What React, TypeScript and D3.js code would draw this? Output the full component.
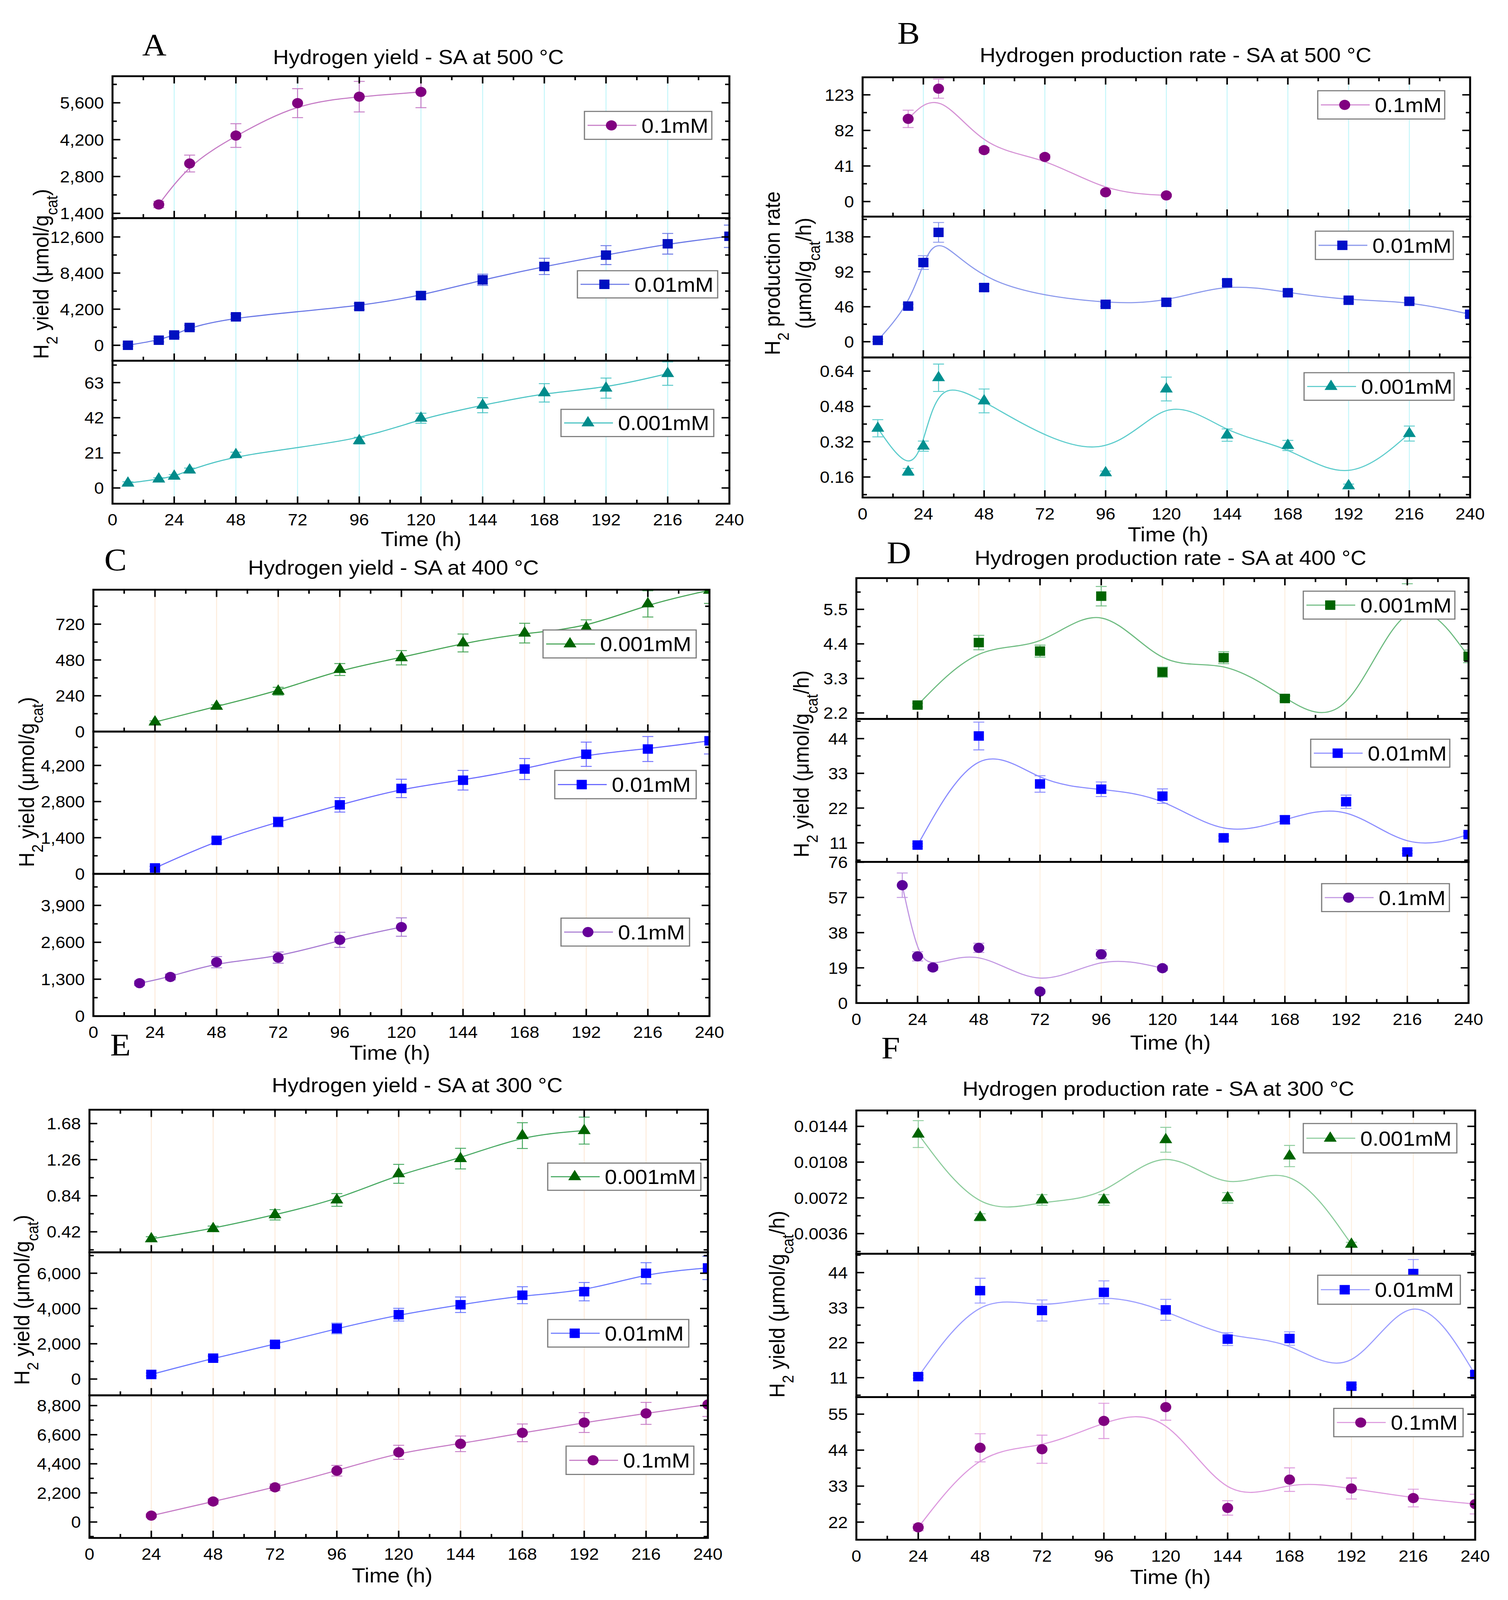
import * as d3 from 'd3'

type Shape = 'circle' | 'square' | 'triangle'

// hours at which samples were taken
const HOURS_24 = [24, 48, 72, 96, 120, 144, 168, 192, 216, 240]
const HOURS_24_192 = [24, 48, 72, 96, 120, 144, 168, 192]
const HOURS_EARLY = [18, 30, 48, 72, 96, 120]
const HOURS_500_SQ = [6, 18, 24, 30, 48, 96, 120, 144, 168, 192, 216, 240]
const HOURS_500_TRI = [6, 18, 24, 30, 48, 96, 120, 144, 168, 192, 216]
const HOURS_400_CIRC = [18, 24, 30, 48, 72, 96, 120]

const X_TICKS = [0, 24, 48, 72, 96, 120, 144, 168, 192, 216, 240]
const X_MINOR = [12, 36, 60, 84, 108, 132, 156, 180, 204, 228]
const GRID_X = [24, 48, 72, 96, 120, 144, 168, 192, 216]

// A - yield 500 °C
const yieldA_01 = [1737, 3293, 4356, 5587, 5833, 6015]
const errA_01 = [120, 320, 450, 550, 580, 600]
const yieldA_001 = [0, 598, 1197, 2074, 3311, 4507, 5783, 7618, 9174, 10490, 11806, 12680]
const errA_001 = [100, 200, 250, 250, 300, 350, 450, 650, 950, 1100, 1200, 1300]
const yieldA_0001 = [2.9, 5.3, 7.0, 10.7, 19.9, 28.3, 41.7, 49.5, 56.9, 59.7, 68.4]
const errA_0001 = [0.8, 0.8, 1, 1.2, 1.5, 2, 3, 4.5, 5.5, 6, 7]

// B - rate 500 °C
const rateB_01 = [95.3, 130.1, 59.3, 51.4, 10.7, 7.1]
const errB_01 = [10, 11, 3, 2.5, 2, 1.5]
const rateB_001 = [1.8, 46.9, 104.2, 143.9, 71.3, 49.2, 51.9, 77.6, 64.5, 54.6, 53.2, 36.1]
const errB_001 = [1.5, 2.5, 9, 13, 4.5, 2.5, 2.5, 4, 3, 2.5, 2.5, 2.5]
const rateB_0001 = [0.381, 0.183, 0.3, 0.61, 0.505, 0.179, 0.559, 0.35, 0.303, 0.12, 0.357]
const errB_0001 = [0.039, 0.016, 0.023, 0.062, 0.054, 0.008, 0.054, 0.028, 0.023, 0.008, 0.034]

// C - yield 400 °C
const yieldC_0001 = [63.9, 169.5, 270.8, 416, 495, 594, 660, 696, 856, 947]
const errC_0001 = [8, 10, 26, 40, 48, 60, 66, 53, 88, 88]
const yieldC_001 = [229, 1298, 2011, 2673, 3309, 3627, 4060, 4633, 4836, 5154]
const errC_001 = [60, 100, 190, 280, 356, 380, 407, 470, 484, 510]
const yieldC_01 = [1158, 1378, 1899, 2061, 2686, 3137]
const errC_01 = [80, 100, 197, 197, 266, 324]

// D - rate 400 °C
const rateD_0001 = [2.451, 4.442, 4.17, 5.919, 3.499, 3.96, 2.661, 1.536, 6.615, 4.002]
const errD_0001 = [0.06, 0.23, 0.19, 0.31, 0.16, 0.19, 0.08, 0.1, 0.3, 0.2]
const rateD_001 = [10.27, 44.82, 29.63, 27.96, 25.78, 12.56, 18.28, 24.0, 8.09, 13.6]
const errD_001 = [0.4, 4.4, 2.6, 2.3, 2.3, 0.6, 1.25, 2.1, 0.5, 0.6]
const rateD_01 = [63.6, 25.2, 19.2, 29.8, 6.2, 26.3, 18.8]
const errD_01 = [6.6, 2.5, 1.5, 2.5, 1, 2.5, 1.2]

// E - yield 300 °C
const yieldE_0001 = [0.338, 0.457, 0.618, 0.791, 1.095, 1.272, 1.54, 1.598]
const errE_0001 = [0.025, 0.03, 0.06, 0.074, 0.11, 0.12, 0.15, 0.157]
const yieldE_001 = [261, 1184, 1966, 2869, 3651, 4213, 4754, 4955, 5998, 6299]
const errE_001 = [80, 120, 150, 300, 360, 440, 480, 520, 600, 660]
const yieldE_01 = [481, 1551, 2621, 3878, 5269, 5911, 6740, 7516, 8212, 8880]
const errE_01 = [120, 200, 250, 400, 530, 590, 670, 750, 830, 900]

// F - rate 300 °C
const rateF_0001 = [0.01362, 0.00524, 0.00699, 0.00699, 0.01305, 0.0072, 0.01141, 0.00253]
const errF_0001 = [0.00135, 0.00036, 0.00053, 0.00053, 0.00125, 0.00053, 0.00107, 0.0002]
const rateF_001 = [11.33, 38.33, 32.1, 37.8, 32.3, 23.1, 23.3, 8.33, 43.7, 12.0]
const errF_001 = [0.5, 3.9, 3.3, 3.6, 3.3, 2, 2.1, 0.5, 4.4, 0.8]
const rateF_01 = [20.38, 44.71, 44.28, 52.93, 57.15, 26.33, 34.98, 32.27, 29.35, 27.5]
const errF_01 = [1, 4.3, 4.3, 5.4, 4, 2.2, 3.6, 3.2, 2.7, 3]

interface Sub {
  name: string
  hours: number[]
  values: number[]
  errs: number[]
  color: string
  lineColor: string
  shape: Shape
  domain: [number, number]
  ticks: number[]
  legend: [number, number, number, number]
}

interface PanelCfg {
  id: string
  letter: string
  letterPos: [number, number]
  title: string
  titlePos: [number, number]
  frame: { l: number; r: number; t: number; d1: number; d2: number; b: number }
  yTitle: 'yield' | 'rate2' | 'rate1'
  yTitlePos: [number, number]
  xTitlePos: [number, number]
  grid: string
  subs: Sub[]
}

const FONT = '"Liberation Sans", Arial, sans-serif'

const PANELS: PanelCfg[] = [
  {
    id: 'A', letter: 'A', letterPos: [364, 153],
    title: 'Hydrogen yield - SA at 500 °C', titlePos: [1071, 156],
    frame: { l: 288, r: 1867, t: 210, d1: 601, d2: 994, b: 1388 },
    yTitle: 'yield', yTitlePos: [104, 755], xTitlePos: [1078, 1485], grid: '#c4f6fa',
    subs: [
      { name: '0.1mM', hours: HOURS_EARLY, values: yieldA_01, errs: errA_01, color: '#800080', lineColor: '#c57ac5', shape: 'circle',
        domain: [1219, 6611], ticks: [1400, 2800, 4200, 5600], legend: [1496, 307, 326, 77] },
      { name: '0.01mM', hours: HOURS_500_SQ, values: yieldA_001, errs: errA_001, color: '#0010c0', lineColor: '#6a78e6', shape: 'square',
        domain: [-1795, 14794], ticks: [0, 4200, 8400, 12600], legend: [1478, 746, 359, 75] },
      { name: '0.001mM', hours: HOURS_500_TRI, values: yieldA_0001, errs: errA_0001, color: '#008b8b', lineColor: '#4cc4c4', shape: 'triangle',
        domain: [-9.4, 76.1], ticks: [0, 21, 42, 63], legend: [1436, 1128, 391, 75] },
    ],
  },
  {
    id: 'B', letter: 'B', letterPos: [2297, 121],
    title: 'Hydrogen production rate - SA at 500 °C', titlePos: [3009, 151],
    frame: { l: 2208, r: 3763, t: 213, d1: 597, d2: 985, b: 1371 },
    yTitle: 'rate2', yTitlePos: [1976, 753], xTitlePos: [2990, 1472], grid: '#c4f6fa',
    subs: [
      { name: '0.1mM', hours: HOURS_EARLY, values: rateB_01, errs: errB_01, color: '#800080', lineColor: '#d592d5', shape: 'circle',
        domain: [-17.4, 143.2], ticks: [0, 41, 82, 123], legend: [3373, 250, 325, 78] },
      { name: '0.01mM', hours: HOURS_500_SQ, values: rateB_001, errs: errB_001, color: '#0010c8', lineColor: '#8a98ec', shape: 'square',
        domain: [-20.7, 164.6], ticks: [0, 46, 92, 138], legend: [3367, 637, 353, 78] },
      { name: '0.001mM', hours: HOURS_500_TRI, values: rateB_0001, errs: errB_0001, color: '#009090', lineColor: '#5ccccc', shape: 'triangle',
        domain: [0.067, 0.702], ticks: [0.16, 0.32, 0.48, 0.64], legend: [3338, 1027, 384, 76] },
    ],
  },
  {
    id: 'C', letter: 'C', letterPos: [267, 1572],
    title: 'Hydrogen yield - SA at 400 °C', titlePos: [1007, 1563],
    frame: { l: 239, r: 1816, t: 1625, d1: 2016, d2: 2408, b: 2800 },
    yTitle: 'yield', yTitlePos: [67, 2155], xTitlePos: [998, 2900], grid: '#fdebdb',
    subs: [
      { name: '0.001mM', hours: HOURS_24, values: yieldC_0001, errs: errC_0001, color: '#006400', lineColor: '#45a455', shape: 'triangle',
        domain: [0, 951], ticks: [0, 240, 480, 720], legend: [1390, 1736, 392, 77] },
      { name: '0.01mM', hours: HOURS_24, values: yieldC_001, errs: errC_001, color: '#0000ff', lineColor: '#6c6cff', shape: 'square',
        domain: [0, 5511], ticks: [0, 1400, 2800, 4200], legend: [1420, 2123, 362, 78] },
      { name: '0.1mM', hours: HOURS_EARLY, values: yieldC_01, errs: errC_01, color: '#660099', lineColor: '#a77ad2', shape: 'circle',
        domain: [0, 5011], ticks: [0, 1300, 2600, 3900], legend: [1436, 2530, 329, 77] },
    ],
  },
  {
    id: 'D', letter: 'D', letterPos: [2270, 1552],
    title: 'Hydrogen production rate - SA at 400 °C', titlePos: [2996, 1536],
    frame: { l: 2192, r: 3759, t: 1593, d1: 1981, d2: 2375, b: 2764 },
    yTitle: 'rate1', yTitlePos: [2050, 2105], xTitlePos: [2996, 2872], grid: '#fdefdf',
    subs: [
      { name: '0.001mM', hours: HOURS_24, values: rateD_0001, errs: errD_0001, color: '#006400', lineColor: '#6dbb80', shape: 'square',
        domain: [2.011, 6.495], ticks: [2.2, 3.3, 4.4, 5.5], legend: [3336, 1629, 388, 77] },
      { name: '0.01mM', hours: HOURS_24, values: rateD_001, errs: errD_001, color: '#0000ff', lineColor: '#8a8cff', shape: 'square',
        domain: [4.96, 50.24], ticks: [11, 22, 33, 44], legend: [3355, 2037, 356, 77] },
      { name: '0.1mM', hours: HOURS_400_CIRC, values: rateD_01, errs: errD_01, color: '#5a0099', lineColor: '#c196e2', shape: 'circle',
        domain: [0, 76.2], ticks: [0, 19, 38, 57, 76], legend: [3383, 2435, 327, 77] },
    ],
  },
  {
    id: 'E', letter: 'E', letterPos: [282, 2909],
    title: 'Hydrogen yield - SA at 300 °C', titlePos: [1068, 2990],
    frame: { l: 229, r: 1812, t: 3058, d1: 3451, d2: 3845, b: 4238 },
    yTitle: 'yield', yTitlePos: [55, 3582], xTitlePos: [1004, 4340], grid: '#fdebdb',
    subs: [
      { name: '0.001mM', hours: HOURS_24_192, values: yieldE_0001, errs: errE_0001, color: '#006400', lineColor: '#45a860', shape: 'triangle',
        domain: [0.181, 1.841], ticks: [0.42, 0.84, 1.26, 1.68], legend: [1402, 3205, 392, 75] },
      { name: '0.01mM', hours: HOURS_24, values: yieldE_001, errs: errE_001, color: '#0000ff', lineColor: '#6a78ff', shape: 'square',
        domain: [-923, 7184], ticks: [0, 2000, 4000, 6000], legend: [1402, 3636, 361, 76] },
      { name: '0.1mM', hours: HOURS_24, values: yieldE_01, errs: errE_01, color: '#800080', lineColor: '#c57ac5', shape: 'circle',
        domain: [-1204, 9576], ticks: [0, 2200, 4400, 6600, 8800], legend: [1449, 3985, 327, 78] },
    ],
  },
  {
    id: 'F', letter: 'F', letterPos: [2256, 2917],
    title: 'Hydrogen production rate - SA at 300 °C', titlePos: [2965, 2999],
    frame: { l: 2192, r: 3776, t: 3060, d1: 3455, d2: 3850, b: 4243 },
    yTitle: 'rate1', yTitlePos: [1988, 3594], xTitlePos: [2996, 4345], grid: '#fdefdf',
    subs: [
      { name: '0.001mM', hours: HOURS_24_192, values: rateF_0001, errs: errF_0001, color: '#006400', lineColor: '#8ccc9c', shape: 'triangle',
        domain: [0.00157, 0.016], ticks: [0.0036, 0.0072, 0.0108, 0.0144], legend: [3336, 3096, 393, 81] },
      { name: '0.01mM', hours: HOURS_24, values: rateF_001, errs: errF_001, color: '#0000ff', lineColor: '#9b9dff', shape: 'square',
        domain: [4.89, 49.9], ticks: [11, 22, 33, 44], legend: [3373, 3514, 365, 80] },
      { name: '0.1mM', hours: HOURS_24, values: rateF_01, errs: errF_01, color: '#800080', lineColor: '#dd9ade', shape: 'circle',
        domain: [16.6, 60.2], ticks: [22, 33, 44, 55], legend: [3414, 3881, 331, 78] },
    ],
  },
]

const symbolFor = (shape: Shape) => {
  if (shape === 'circle') return d3.symbol().type(d3.symbolCircle).size(620)()
  if (shape === 'square') return d3.symbol().type(d3.symbolSquare).size(680)()
  return d3.symbol().type(d3.symbolTriangle).size(470)()
}

const fmtTick = (v: number) => (Math.abs(v) >= 1000 ? d3.format(',')(v) : String(v))

function minorTicks(ticks: number[], domain: [number, number]) {
  const step = ticks[1] - ticks[0]
  const out: number[] = []
  for (let v = ticks[0] - step / 2; v >= domain[0]; v -= step) out.push(v)
  for (let v = ticks[0] + step / 2; v <= domain[1]; v += step) out.push(v)
  return out
}

function Subplot({ sub, x, top, bottom, left, right, clipId, grid, first }: {
  sub: Sub; x: d3.ScaleLinear<number, number>; top: number; bottom: number; left: number; right: number
  clipId: string; grid: string; first: boolean
}) {
  const y = d3.scaleLinear().domain(sub.domain).range([bottom, top])
  const line = d3.line<number>()
    .x((_, i) => x(sub.hours[i]))
    .y(v => y(v))
    .curve(d3.curveBasis)
  const marker = symbolFor(sub.shape)
  const minors = minorTicks(sub.ticks, sub.domain)
  const [lx, ly, lw, lh] = sub.legend
  const cap = 14

  return (
    <g>
      <clipPath id={clipId}>
        <rect x={left} y={top} width={right - left} height={bottom - top} />
      </clipPath>
      {GRID_X.map(h => (
        <line key={h} x1={x(h)} x2={x(h)} y1={top} y2={bottom} stroke={grid} strokeWidth={2.5} />
      ))}
      <g clipPath={`url(#${clipId})`}>
        <path d={line(sub.values) ?? ''} fill="none" stroke={sub.lineColor} strokeWidth={3} />
        {sub.values.map((v, i) => {
          const cx = x(sub.hours[i])
          const y0 = y(v - sub.errs[i])
          const y1 = y(v + sub.errs[i])
          return (
            <g key={i} stroke={sub.lineColor} strokeWidth={2.5}>
              <line x1={cx} x2={cx} y1={y0} y2={y1} />
              <line x1={cx - cap} x2={cx + cap} y1={y0} y2={y0} />
              <line x1={cx - cap} x2={cx + cap} y1={y1} y2={y1} />
            </g>
          )
        })}
        {sub.values.map((v, i) => (
          <path key={i} d={marker ?? ''} transform={`translate(${x(sub.hours[i])},${y(v)})`} fill={sub.color} />
        ))}
      </g>

      {/* legend */}
      <rect x={lx} y={ly} width={lw} height={lh} fill="#fff" stroke="#7a7a7a" strokeWidth={3} />
      <line x1={lx + 8} x2={lx + 133} y1={ly + lh / 2} y2={ly + lh / 2} stroke={sub.lineColor} strokeWidth={3} />
      <path d={marker ?? ''} transform={`translate(${lx + 69},${ly + lh / 2})`} fill={sub.color} />
      <text x={lx + 146} y={ly + lh / 2} dy="0.36em" fontSize={56} fontFamily={FONT}>{sub.name}</text>

      {/* y axis ticks, both sides */}
      <g stroke="#000" strokeWidth={4}>
        {sub.ticks.map(t => (
          <g key={t}>
            <line x1={left} x2={left + 20} y1={y(t)} y2={y(t)} />
            <line x1={right - 20} x2={right} y1={y(t)} y2={y(t)} />
          </g>
        ))}
        {minors.map(t => (
          <g key={t}>
            <line x1={left} x2={left + 11} y1={y(t)} y2={y(t)} />
            <line x1={right - 11} x2={right} y1={y(t)} y2={y(t)} />
          </g>
        ))}
        {X_TICKS.map(h => (
          <line key={h} x1={x(h)} x2={x(h)} y1={bottom} y2={bottom - 20} />
        ))}
        {X_MINOR.map(h => (
          <line key={h} x1={x(h)} x2={x(h)} y1={bottom} y2={bottom - 11} />
        ))}
        {first && X_TICKS.map(h => (
          <line key={'t' + h} x1={x(h)} x2={x(h)} y1={top} y2={top + 20} />
        ))}
        {first && X_MINOR.map(h => (
          <line key={'tm' + h} x1={x(h)} x2={x(h)} y1={top} y2={top + 11} />
        ))}
      </g>
      <rect x={left} y={top} width={right - left} height={bottom - top} fill="none" stroke="#000" strokeWidth={5} />
      {sub.ticks.map(t => (
        <text key={t} x={left - 22} y={y(t)} dy="0.36em" textAnchor="end" fontSize={45} fontFamily={FONT}>
          {fmtTick(t)}
        </text>
      ))}
    </g>
  )
}

function YTitle({ kind, pos }: { kind: PanelCfg['yTitle']; pos: [number, number] }) {
  const [px, py] = pos
  const sub = (s: string) => <tspan baselineShift="sub" fontSize={40}>{s}</tspan>
  if (kind === 'rate2') {
    return (
      <g transform={`translate(${px},${py}) rotate(-90)`} fontFamily={FONT} fontSize={56} textAnchor="middle">
        <text dy="0.36em">H{sub('2')} production rate</text>
        <text y={80} dy="0.36em">(μmol/g{sub('cat')}/h)</text>
      </g>
    )
  }
  return (
    <text transform={`translate(${px},${py}) rotate(-90)`} dy="0.36em" fontFamily={FONT} fontSize={56} textAnchor="middle">
      H{sub('2')} yield (μmol/g{sub('cat')}{kind === 'rate1' ? '/h' : ''})
    </text>
  )
}

function Panel({ cfg }: { cfg: PanelCfg }) {
  const f = cfg.frame
  const x = d3.scaleLinear().domain([0, 240]).range([f.l, f.r])
  const bands: [number, number][] = [[f.t, f.d1], [f.d1, f.d2], [f.d2, f.b]]
  return (
    <g>
      <text x={cfg.letterPos[0]} y={cfg.letterPos[1]} fontSize={86} fontFamily='"Liberation Serif", "Times New Roman", serif'>
        {cfg.letter}
      </text>
      <text x={cfg.titlePos[0]} y={cfg.titlePos[1]} dy="0.36em" textAnchor="middle" fontSize={56} fontFamily={FONT}>
        {cfg.title}
      </text>
      {cfg.subs.map((s, i) => (
        <Subplot key={i} sub={s} x={x} top={bands[i][0]} bottom={bands[i][1]} left={f.l} right={f.r}
          clipId={`clip-${cfg.id}-${i}`} grid={cfg.grid} first={i === 0} />
      ))}
      {X_TICKS.map(h => (
        <text key={h} x={x(h)} y={f.b + 44} dy="0.36em" textAnchor="middle" fontSize={45} fontFamily={FONT}>{h}</text>
      ))}
      <text x={cfg.xTitlePos[0]} y={cfg.xTitlePos[1]} dy="0.36em" textAnchor="middle" fontSize={56} fontFamily={FONT}>
        Time (h)
      </text>
      <YTitle kind={cfg.yTitle} pos={cfg.yTitlePos} />
    </g>
  )
}

export default function App() {
  // the whole figure is fitted to the viewport so nothing is cut off at the bottom
  return (
    <svg viewBox="0 0 3860 4409" preserveAspectRatio="none"
      style={{ position: 'fixed', left: 0, top: 0, width: '100vw', height: '100vh', background: '#fff', display: 'block' }}>
      <rect width={3860} height={4409} fill="#fff" />
      {PANELS.map(p => <Panel key={p.id} cfg={p} />)}
    </svg>
  )
}
